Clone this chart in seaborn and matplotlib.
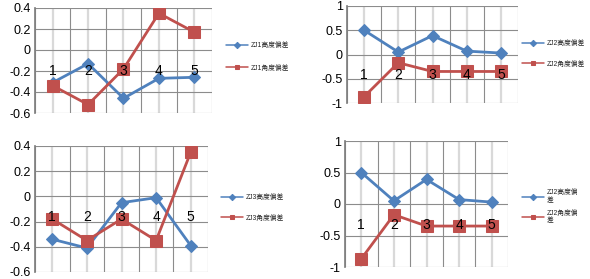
import matplotlib
matplotlib.use("Agg")
import matplotlib.pyplot as plt
import seaborn as sns
import pandas as pd
from matplotlib.ticker import MultipleLocator, FixedLocator

sns.set_theme(style="white")
plt.rcParams['font.family'] = ['Liberation Sans', 'Noto Sans CJK SC', 'DejaVu Sans']

categories = [1, 2, 3, 4, 5]
cat_labels = ["1", "2", "3", "4", "5"]

zj1_height = [-0.31, -0.13, -0.46, -0.27, -0.26]
zj1_angle = [-0.34, -0.52, -0.18, 0.35, 0.17]
zj2_height = [0.50, 0.05, 0.39, 0.07, 0.03]
zj2_angle = [-0.87, -0.17, -0.35, -0.35, -0.35]
zj3_height = [-0.34, -0.41, -0.05, -0.01, -0.39]
zj3_angle = [-0.18, -0.35, -0.18, -0.35, 0.35]

panels = [
    dict(h=zj1_height, a=zj1_angle, hl="ZJ1高度偏差", al="ZJ1角度偏差",
         rect=[35/590, 1-113/279, 177/590, 105/279], ylim=(-0.6, 0.4), step=0.2,
         leg=(226, 42), spacing=2.3),
    dict(h=zj2_height, a=zj2_angle, hl="ZJ2高度偏差", al="ZJ2角度偏差",
         rect=[347/590, 1-103/279, 171/590, 97/279], ylim=(-1, 1), step=0.5,
         leg=(522, 40), spacing=2.0),
    dict(h=zj3_height, a=zj3_angle, hl="ZJ3高度偏差", al="ZJ3角度偏差",
         rect=[35/590, 1-272/279, 173/590, 126/279], ylim=(-0.6, 0.4), step=0.2,
         leg=(221, 194), spacing=2.0),
    dict(h=zj2_height, a=zj2_angle, hl="ZJ2高度偏\n差", al="ZJ2角度偏\n差",
         rect=[345/590, 1-267/279, 163/590, 126/279], ylim=(-1, 1), step=0.5,
         leg=(522, 189), spacing=0.8),
]

blue = "#4F81BD"
red = "#C0504D"

fig = plt.figure(figsize=(5.9, 2.79), dpi=100)

for p in panels:
    ax = fig.add_axes(p["rect"])
    df = pd.DataFrame({"x": categories, "h": p["h"], "a": p["a"]})
    sns.lineplot(data=df, x="x", y="h", ax=ax, color=blue, marker="D",
                 markersize=6, linewidth=2.0, markeredgecolor=blue, label=p["hl"])
    sns.lineplot(data=df, x="x", y="a", ax=ax, color=red, marker="s",
                 markersize=8, linewidth=2.0, markeredgecolor=red, label=p["al"])
    ax.set_xlim(0.5, 5.5)
    ax.set_ylim(*p["ylim"])
    ax.yaxis.set_major_locator(MultipleLocator(p["step"]))
    ax.set_yticklabels([f"{round(v, 2):g}" if abs(v) > 1e-9 else "0"
                        for v in ax.get_yticks()])
    ax.xaxis.set_major_locator(FixedLocator(categories))
    ax.xaxis.set_minor_locator(FixedLocator([0.5, 1.5, 2.5, 3.5, 4.5, 5.5]))
    ax.grid(True, which="major", axis="y", color="#8c8c8c", linewidth=0.8)
    ax.grid(True, which="minor", axis="x", color="#8c8c8c", linewidth=0.8)
    ax.grid(True, which="major", axis="x", color="#d9d9d9", linewidth=1.6)
    ax.set_axisbelow(True)
    ax.spines["bottom"].set_visible(False)
    ax.spines["left"].set_color("#808080")
    ax.spines["top"].set_visible(False)
    ax.spines["right"].set_visible(False)
    ax.tick_params(axis="x", which="both", length=0, labelbottom=False)
    ax.tick_params(axis="y", length=0, labelsize=9, pad=3, colors="black")
    ax.set_xlabel("")
    ax.set_ylabel("")

    # overlay axes carrying the category labels at y=0 (drawn above the lines)
    ov = fig.add_axes(p["rect"], sharex=ax, sharey=ax)
    ov.patch.set_visible(False)
    for s in ("top", "right", "left"):
        ov.spines[s].set_visible(False)
    ov.spines["bottom"].set_position(("data", 0))
    ov.spines["bottom"].set_visible(False)
    ov.set_xticks(categories)
    ov.set_xticklabels(cat_labels)
    ov.tick_params(axis="x", which="both", length=0, labelsize=10, pad=10,
                   colors="black", labelbottom=True)
    ov.tick_params(axis="y", left=False, labelleft=False)
    ov.grid(False)

    lx, ly = p["leg"]
    ax.legend(loc="upper left", bbox_to_anchor=(lx/590, 1-ly/279),
              bbox_transform=fig.transFigure, frameon=False, fontsize=4.9,
              handlelength=3.2, labelspacing=p["spacing"], borderaxespad=0,
              borderpad=0, handletextpad=0.4)
    for h in ax.get_legend().legend_handles:
        h.set_markersize(3.2)
        h.set_linewidth(1.1)

fig.savefig("out.png", dpi=100)
